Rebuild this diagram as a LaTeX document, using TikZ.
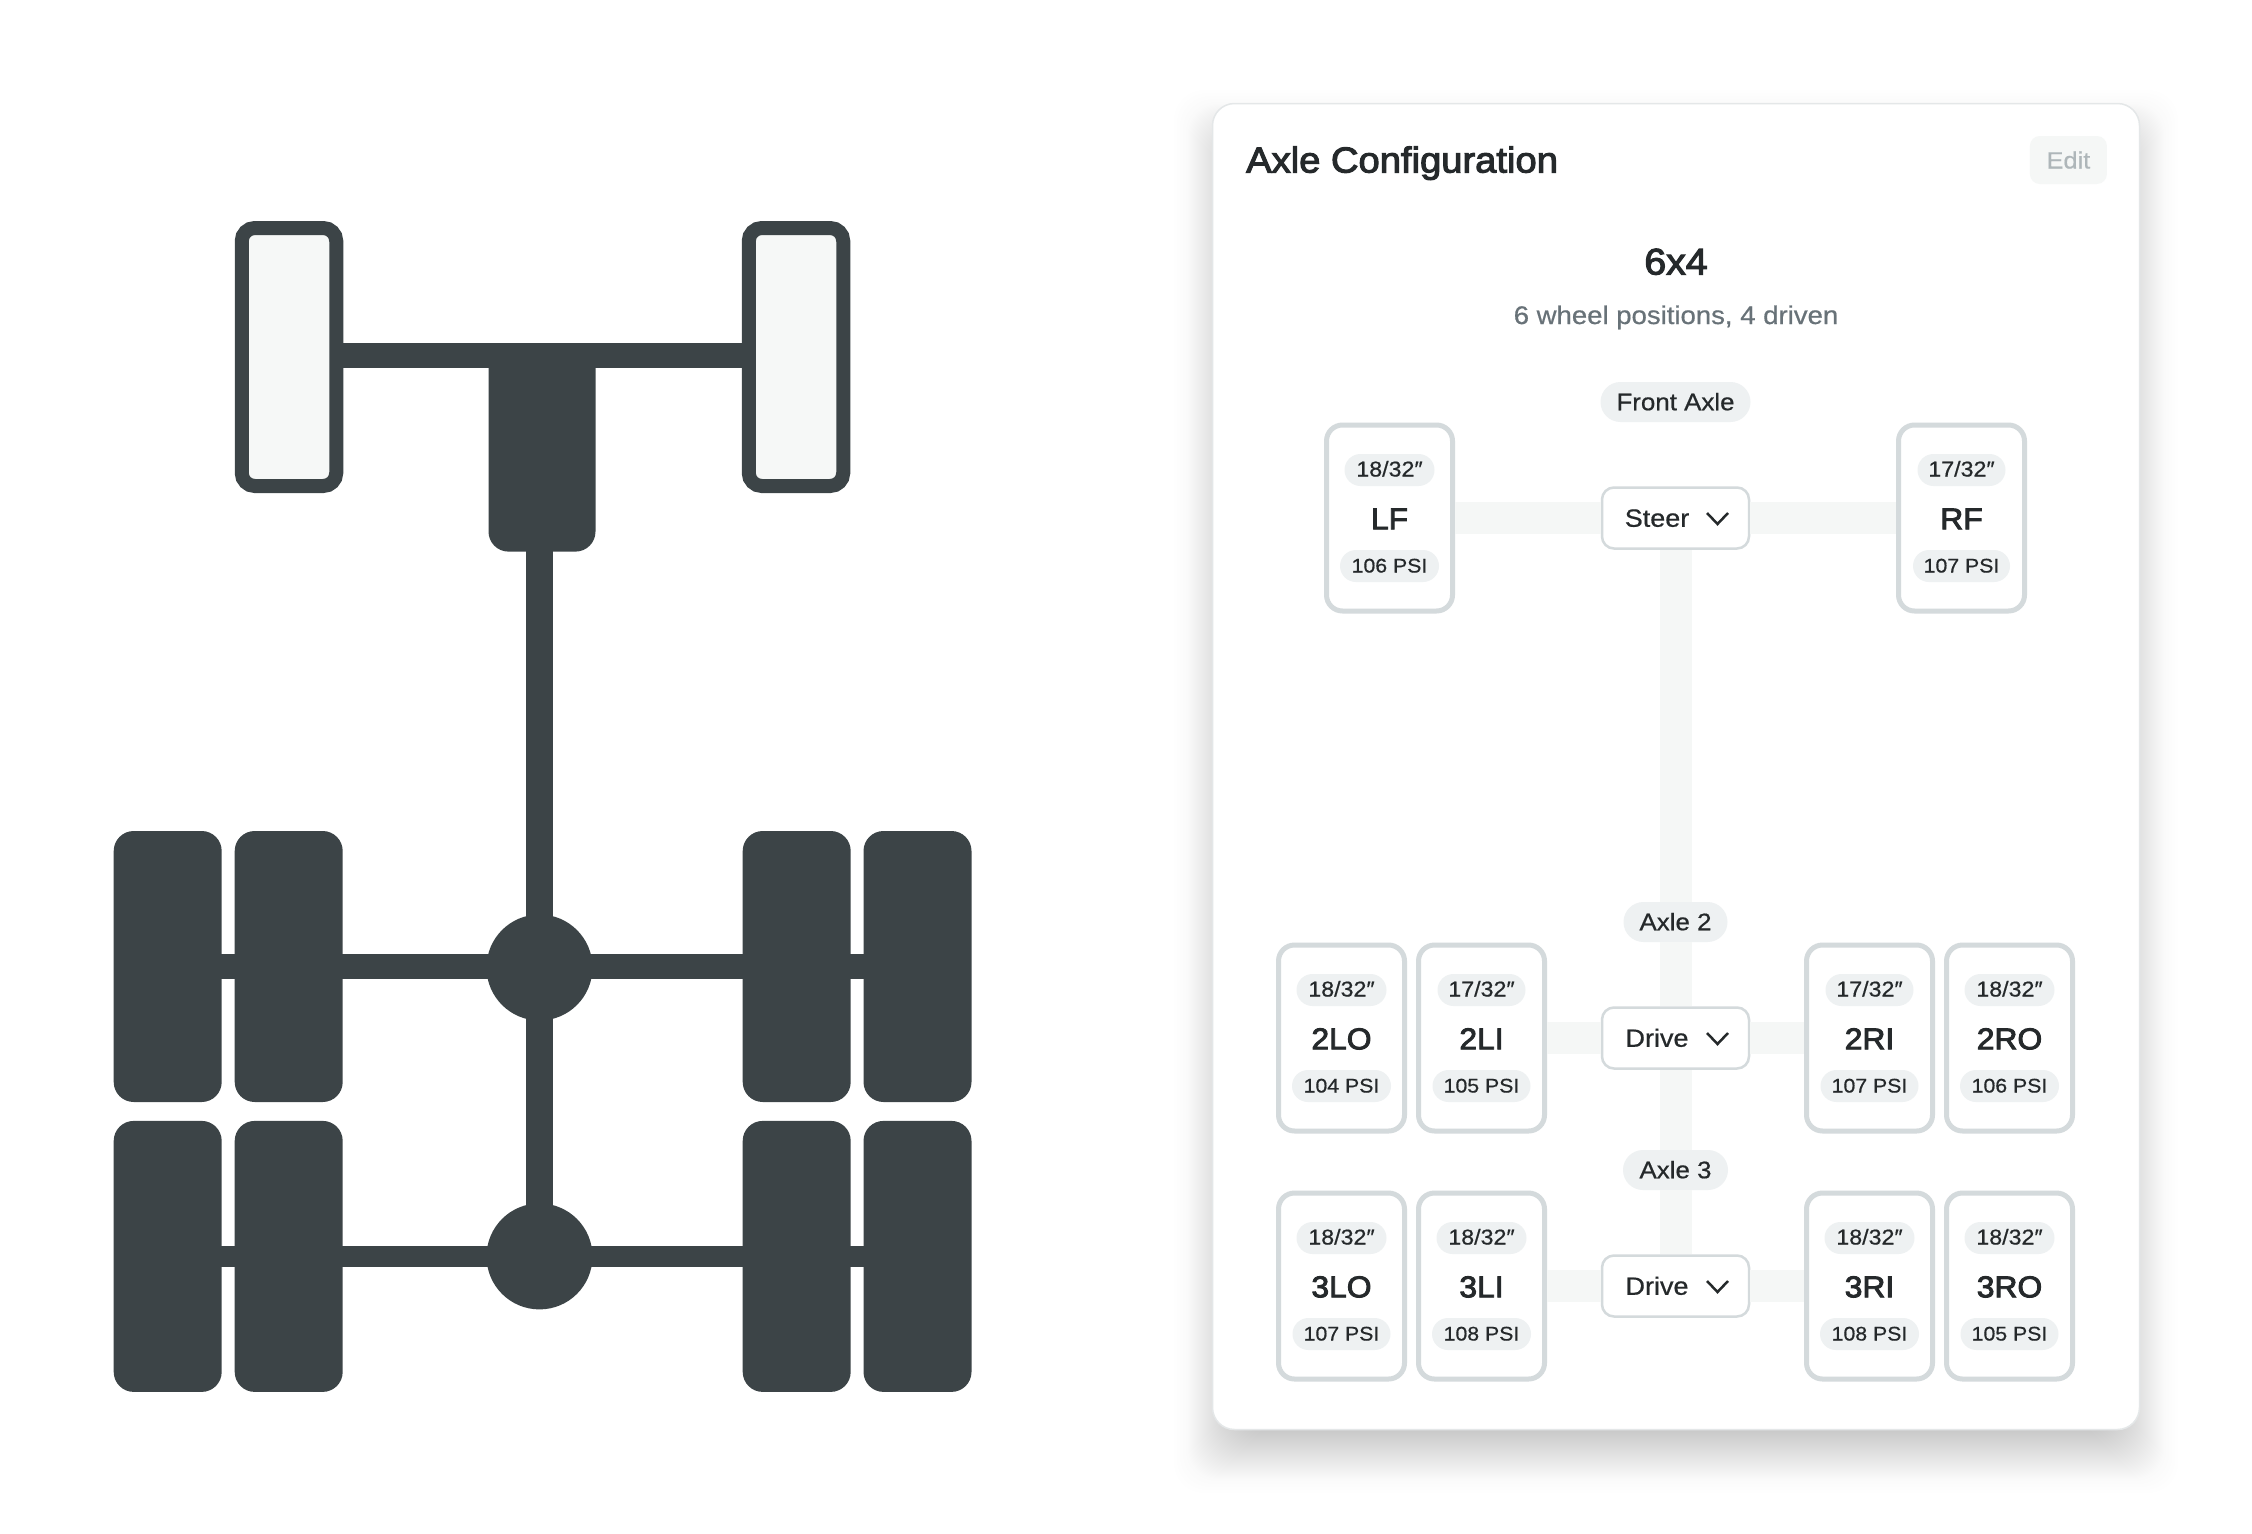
\documentclass[tikz,border=0pt]{standalone}
\usepackage{fontspec}
\setmainfont[FakeStretch=1.08,FakeBold=0.6]{Liberation Sans}
\newfontfamily\medfont[FakeStretch=1.06,FakeBold=3]{Liberation Sans}
\definecolor{axle_dark}{HTML}{3C4447}
\definecolor{wheel_light}{HTML}{F6F8F7}
\definecolor{card_edge}{HTML}{E4E7E8}
\definecolor{tire_edge}{HTML}{D4DADC}
\definecolor{pill_fill}{HTML}{EEF1F2}
\definecolor{band_fill}{HTML}{F5F7F6}
\definecolor{ink}{HTML}{25292B}
\definecolor{ink_soft}{HTML}{687278}
\definecolor{ink_off}{HTML}{AEB6B9}
\tikzset{
  wheel_solid/.style={fill=axle_dark, rounded corners=20pt, minimum width=108pt, minimum height=271pt, inner sep=0pt, outer sep=0pt},
  wheel_open/.style={draw=axle_dark, fill=wheel_light, line width=14pt, rounded corners=13pt, minimum width=94.5pt, minimum height=258pt, inner sep=0pt},
  diff_ball/.style={circle, fill=axle_dark, minimum size=106pt, inner sep=0pt, outer sep=0pt},
  steer_box/.style={fill=axle_dark, rounded corners=20pt, minimum width=107pt, minimum height=204pt, inner sep=0pt, outer sep=0pt},
  axle_bar/.style={draw=axle_dark, line width=25pt},
  axle_thin/.style={draw=axle_dark, line width=20.5pt},
  shaft_bar/.style={draw=axle_dark, line width=27.5pt},
  panel_card/.style={draw=card_edge, fill=white, line width=1.5pt, rounded corners=22pt, minimum width=927pt, minimum height=1326pt, inner sep=0pt},
  tire_box/.style={draw=tire_edge, fill=white, line width=5pt, rounded corners=16pt, minimum width=126pt, minimum height=186pt, inner sep=0pt},
  tread_pill/.style={fill=pill_fill, text=ink, rounded corners=16pt, minimum height=32pt, inner sep=0pt, font=\fontsize{21.5}{25}\selectfont, text height=13pt, text depth=0pt},
  psi_pill/.style={tread_pill, font=\fontsize{19.7}{25}\selectfont},
  tire_code/.style={text=ink, inner sep=0pt, font=\medfont\fontsize{30}{36}\selectfont, text height=21.5pt, text depth=0pt},
  axle_pill/.style={fill=pill_fill, text=ink, rounded corners=20pt, minimum height=40pt, inner sep=0pt, font=\fontsize{24}{28}\selectfont, text height=16.5pt, text depth=0pt},
  sel_box/.style={draw=tire_edge, fill=white, line width=2.5pt, rounded corners=12pt, minimum width=147pt, minimum height=61pt, inner sep=0pt},
  sel_text/.style={text=ink, inner sep=0pt, font=\fontsize{25}{28}\selectfont, text height=17.5pt, text depth=0pt},
  chevron_line/.style={draw=ink, line width=2.5pt},
  band_line/.style={draw=band_fill, line width=32pt},
}
\begin{document}
\begin{tikzpicture}[x=1pt, y=-1pt]
    \useasboundingbox (0, 0) rectangle (2252, 1534);

    \node[wheel_open] (wheel_fl) at (289, 357) {};
    \node[wheel_open] (wheel_fr) at (796, 357) {};
    \node[steer_box] (steer) at (542, 449.6) {};
    \node[wheel_solid] (wheel_2lo) at (167.7, 966.5) {};
    \node[wheel_solid] (wheel_2li) at (288.7, 966.5) {};
    \node[wheel_solid] (wheel_2ri) at (796.7, 966.5) {};
    \node[wheel_solid] (wheel_2ro) at (917.5, 966.5) {};
    \node[wheel_solid] (wheel_3lo) at (167.7, 1256.4) {};
    \node[wheel_solid] (wheel_3li) at (288.7, 1256.4) {};
    \node[wheel_solid] (wheel_3ri) at (796.7, 1256.4) {};
    \node[wheel_solid] (wheel_3ro) at (917.5, 1256.4) {};
    \node[diff_ball] (diff_2) at (539.5, 967.5) {};
    \node[diff_ball] (diff_3) at (539.5, 1256.4) {};

    \draw[axle_bar] ([yshift=2pt]wheel_fl.east) -- ([yshift=2pt]wheel_fr.west);
    \draw[shaft_bar] (steer.center -| diff_2) -- (diff_2.center);
    \draw[shaft_bar] (diff_2.center) -- (diff_3.center);
    \draw[axle_bar] (wheel_2lo.center) -- (wheel_2li.center);
    \draw[axle_bar] (wheel_2li.center) -- (wheel_2li.center -| diff_2.center);
    \draw[axle_bar] (wheel_2ri.center -| diff_2.center) -- (wheel_2ri.center);
    \draw[axle_bar] (wheel_2ri.center) -- (wheel_2ro.center);
    \draw[axle_thin] (wheel_3lo.center) -- (wheel_3li.center);
    \draw[axle_thin] (wheel_3li.center) -- (diff_3.center);
    \draw[axle_thin] (diff_3.center) -- (wheel_3ri.center);
    \draw[axle_thin] (wheel_3ri.center) -- (wheel_3ro.center);

    \foreach \s in {38,35,32,29,26,24,23,...,-24}
        \fill[black, opacity=0.004, rounded corners=30pt] ({1212-\s}, {128-\s}) rectangle ({2140+\s}, {1455+\s});
    \node[panel_card] (card) at (1676, 766.5) {};
    \node[text=ink, anchor=west, inner sep=0pt, font=\medfont\fontsize{36}{40}\selectfont, text height=25pt, text depth=0pt] (title) at (1246, 160) {Axle Configuration};
    \node[fill=band_fill, text=ink_off, rounded corners=10pt, minimum width=77pt, minimum height=48pt, inner sep=0pt, font=\fontsize{23.5}{28}\selectfont, text height=17pt, text depth=0pt] (btn_edit) at (2068.4, 160) {Edit};
    \node[text=ink, inner sep=0pt, font=\medfont\fontsize{37}{40}\selectfont, text height=25pt, text depth=0pt] (config) at (1676, 262) {6x4};
    \node[text=ink_soft, inner sep=0pt, font=\fontsize{25.5}{30}\selectfont, text height=16pt, text depth=0pt] (subtitle) at (1676, 316) {6 wheel positions, 4 driven};

    \node[axle_pill, minimum width=150pt] (label_front) at (1675.5, 402) {Front Axle};
    \node[axle_pill, minimum width=104pt] (label_axle2) at (1675.5, 922) {Axle 2};
    \node[axle_pill, minimum width=105pt] (label_axle3) at (1675.5, 1170) {Axle 3};
    \node[sel_box] (sel_front) at (1675.5, 518) {};
    \node[sel_box] (sel_axle2) at (1675.5, 1038) {};
    \node[sel_box] (sel_axle3) at (1675.5, 1286) {};

    \node[tire_box] (tire_lf) at (1389.5, 518) {};
    \node[tire_box] (tire_rf) at (1961.5, 518) {};
    \node[tire_box] (tire_2lo) at (1341.5, 1038) {};
    \node[tire_box] (tire_2li) at (1481.5, 1038) {};
    \node[tire_box] (tire_2ri) at (1869.5, 1038) {};
    \node[tire_box] (tire_2ro) at (2009.5, 1038) {};
    \node[tire_box] (tire_3lo) at (1341.5, 1286) {};
    \node[tire_box] (tire_3li) at (1481.5, 1286) {};
    \node[tire_box] (tire_3ri) at (1869.5, 1286) {};
    \node[tire_box] (tire_3ro) at (2009.5, 1286) {};

    \draw[band_line] (tire_lf) -- (sel_front);
    \draw[band_line] (sel_front) -- (tire_rf);
    \draw[band_line] (sel_front) -- (label_axle2);
    \draw[band_line] (label_axle2) -- (sel_axle2);
    \draw[band_line] (tire_2li) -- (sel_axle2);
    \draw[band_line] (sel_axle2) -- (tire_2ri);
    \draw[band_line] (sel_axle2) -- (label_axle3);
    \draw[band_line] (label_axle3) -- (sel_axle3);
    \draw[band_line] (tire_3li) -- (sel_axle3);
    \draw[band_line] (sel_axle3) -- (tire_3ri);

    \node[sel_text] (text_front) at (1657, 518) {Steer};
    \node[sel_text] (text_axle2) at (1657, 1038) {Drive};
    \node[sel_text] (text_axle3) at (1657, 1286) {Drive};
    \draw[chevron_line] (1707, 513) -- (1717.5, 524) -- (1728, 513);
    \draw[chevron_line] (1707, 1033) -- (1717.5, 1044) -- (1728, 1033);
    \draw[chevron_line] (1707, 1281) -- (1717.5, 1292) -- (1728, 1281);

    \node[tread_pill, minimum width=90pt] (tread_lf) at (1389.5, 470) {18/32″};
    \node[tire_code] (code_lf) at (1389.5, 518.5) {LF};
    \node[psi_pill, minimum width=99pt] (psi_lf) at (1389.5, 566) {106 PSI};
    \node[tread_pill, minimum width=88pt] (tread_rf) at (1961.5, 470) {17/32″};
    \node[tire_code] (code_rf) at (1961.5, 518.5) {RF};
    \node[psi_pill, minimum width=97pt] (psi_rf) at (1961.5, 566) {107 PSI};

    \node[tread_pill, minimum width=90pt] (tread_2lo) at (1341.5, 990) {18/32″};
    \node[tire_code] (code_2lo) at (1341.5, 1038.5) {2LO};
    \node[psi_pill, minimum width=99pt] (psi_2lo) at (1341.5, 1086) {104 PSI};
    \node[tread_pill, minimum width=88pt] (tread_2li) at (1481.5, 990) {17/32″};
    \node[tire_code] (code_2li) at (1481.5, 1038.5) {2LI};
    \node[psi_pill, minimum width=98pt] (psi_2li) at (1481.5, 1086) {105 PSI};
    \node[tread_pill, minimum width=88pt] (tread_2ri) at (1869.5, 990) {17/32″};
    \node[tire_code] (code_2ri) at (1869.5, 1038.5) {2RI};
    \node[psi_pill, minimum width=98pt] (psi_2ri) at (1869.5, 1086) {107 PSI};
    \node[tread_pill, minimum width=90pt] (tread_2ro) at (2009.5, 990) {18/32″};
    \node[tire_code] (code_2ro) at (2009.5, 1038.5) {2RO};
    \node[psi_pill, minimum width=99pt] (psi_2ro) at (2009.5, 1086) {106 PSI};

    \node[tread_pill, minimum width=90pt] (tread_3lo) at (1341.5, 1238) {18/32″};
    \node[tire_code] (code_3lo) at (1341.5, 1286.5) {3LO};
    \node[psi_pill, minimum width=98pt] (psi_3lo) at (1341.5, 1334) {107 PSI};
    \node[tread_pill, minimum width=90pt] (tread_3li) at (1481.5, 1238) {18/32″};
    \node[tire_code] (code_3li) at (1481.5, 1286.5) {3LI};
    \node[psi_pill, minimum width=99pt] (psi_3li) at (1481.5, 1334) {108 PSI};
    \node[tread_pill, minimum width=90pt] (tread_3ri) at (1869.5, 1238) {18/32″};
    \node[tire_code] (code_3ri) at (1869.5, 1286.5) {3RI};
    \node[psi_pill, minimum width=99pt] (psi_3ri) at (1869.5, 1334) {108 PSI};
    \node[tread_pill, minimum width=90pt] (tread_3ro) at (2009.5, 1238) {18/32″};
    \node[tire_code] (code_3ro) at (2009.5, 1286.5) {3RO};
    \node[psi_pill, minimum width=98pt] (psi_3ro) at (2009.5, 1334) {105 PSI};
\end{tikzpicture}
\end{document}
